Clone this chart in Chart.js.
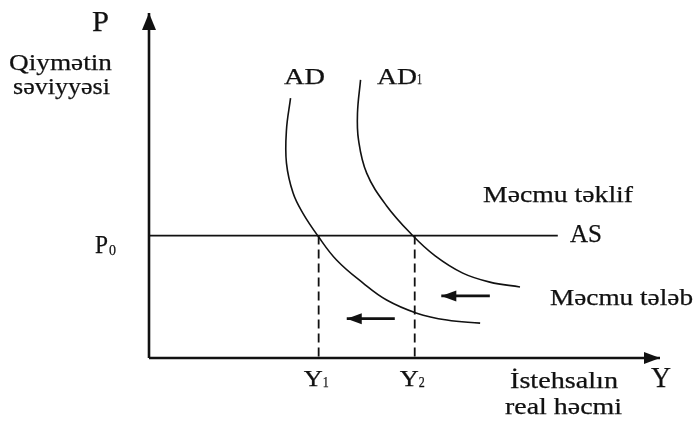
<!DOCTYPE html>
<html>
<head>
<meta charset="utf-8">
<script src="https://cdn.jsdelivr.net/npm/chart.js@4/dist/chart.umd.min.js"></script>
<style>
  html, body { margin: 0; padding: 0; background: #fff; }
  #wrap { width: 697px; height: 422px; position: relative; }
</style>
</head>
<body>
<div id="wrap"><canvas id="adchart"></canvas></div>
<script>
// curves (x = real output, y = price level)
const adCurve = [
  {x: 27.7, y: 75.3}, {x: 26.9, y: 66.1}, {x: 26.9, y: 56.5}, {x: 28.2, y: 47.8},
  {x: 30.1, y: 42.0}, {x: 33.0, y: 35.5}, {x: 36.7, y: 28.4}, {x: 41.9, y: 21.7},
  {x: 46.5, y: 16.8}, {x: 52.4, y: 13.0}, {x: 58.3, y: 11.0}, {x: 64.8, y: 10.1}
];
const ad1Curve = [
  {x: 41.4, y: 80.6}, {x: 40.8, y: 71.0}, {x: 41.0, y: 63.2}, {x: 42.6, y: 53.6},
  {x: 46.4, y: 44.3}, {x: 51.6, y: 35.5}, {x: 56.0, y: 29.6}, {x: 61.4, y: 24.6},
  {x: 66.7, y: 22.0}, {x: 72.6, y: 20.6}
];
const priceLevel = 35.5;           // P0
const asEnd = 80;                  // where the AS line stops
const outputLevels = [33.2, 52.0]; // Y1, Y2
const tickLabels = ['Y', 'Y'];
const tickSubs = ['1', '2'];
const shiftArrows = [
  [{x: 66.7, y: 18.0}, {x: 57.2, y: 18.0}],
  [{x: 48.1, y: 11.4}, {x: 38.7, y: 11.4}]
];

const asLine = [{x: 0, y: priceLevel}, {x: asEnd, y: priceLevel}];
const yAxisLine = [{x: 0, y: 0}, {x: 0, y: 100}];
const xAxisLine = [{x: 0, y: 0}, {x: 100, y: 0}];

const INK = '#111';
const FONT = '"Liberation Serif", "Times New Roman", serif';

function line(data, extra) {
  return Object.assign({
    data: data,
    showLine: true,
    borderColor: INK,
    backgroundColor: INK,
    borderWidth: 1.6,
    pointRadius: 0,
    tension: 0,
    clip: false
  }, extra || {});
}

const datasets = [
  line(yAxisLine, {borderWidth: 2.6, arrowHead: {len: 17, half: 7}}),
  line(xAxisLine, {borderWidth: 2.6, arrowHead: {len: 16, half: 6}}),
  line(asLine, {borderWidth: 1.8}),
  line(adCurve, {tension: 0.4}),
  line(ad1Curve, {tension: 0.4})
];
outputLevels.forEach(v => {
  datasets.push(line([{x: v, y: priceLevel}, {x: v, y: 0}], {borderWidth: 1.8, borderDash: [9, 5]}));
});
shiftArrows.forEach(a => {
  datasets.push(line(a, {borderWidth: 2.6, arrowHead: {len: 15, half: 5.5}}));
});

function stretchText(ctx, str, x, y, size, width) {
  ctx.font = size + 'px ' + FONT;
  const m = ctx.measureText(str).width;
  ctx.save();
  ctx.translate(x, y);
  ctx.scale(width ? width / m : 1, 1);
  ctx.fillText(str, 0, 0);
  ctx.strokeText(str, 0, 0);
  ctx.restore();
}

const arrowPlugin = {
  id: 'arrows',
  afterDatasetsDraw(chart) {
    const ctx = chart.ctx;
    chart.data.datasets.forEach((ds, i) => {
      if (!ds.arrowHead) return;
      const pts = chart.getDatasetMeta(i).data;
      const a = pts[pts.length - 2], b = pts[pts.length - 1];
      const ang = Math.atan2(b.y - a.y, b.x - a.x);
      const {len, half} = ds.arrowHead;
      ctx.save();
      ctx.translate(b.x, b.y);
      ctx.rotate(ang);
      ctx.beginPath();
      ctx.moveTo(0, 0);
      ctx.lineTo(-len, -half);
      ctx.lineTo(-len, half);
      ctx.closePath();
      ctx.fillStyle = INK;
      ctx.fill();
      ctx.restore();
    });
  }
};

const labelPlugin = {
  id: 'labels',
  afterDraw(chart, args, opts) {
    const ctx = chart.ctx;
    const xs = chart.scales.x, ys = chart.scales.y;
    ctx.save();
    ctx.fillStyle = INK;
    ctx.strokeStyle = INK;
    ctx.lineWidth = 0.25;
    ctx.textBaseline = 'alphabetic';
    ctx.textAlign = 'left';
    opts.items.forEach(t => stretchText(ctx, t.text, t.x, t.y, t.size, t.w));
    // P0 on the price axis
    const py = ys.getPixelForValue(priceLevel);
    stretchText(ctx, 'P', xs.left - 54, py + 17, 25, 13);
    stretchText(ctx, '0', xs.left - 40, py + 19, 15, 7);
    // Y1, Y2 under the output axis
    outputLevels.forEach((v, i) => {
      const px = xs.getPixelForValue(v);
      stretchText(ctx, tickLabels[i], px - 15, 386, 23, 19);
      stretchText(ctx, tickSubs[i], px + 4, 387, 14, 6);
    });
    ctx.restore();
  }
};

new Chart(document.getElementById('adchart'), {
  type: 'scatter',
  data: {datasets},
  options: {
    responsive: true,
    maintainAspectRatio: false,
    animation: false,
    events: [],
    layout: {padding: {left: 149, right: 37, top: 13, bottom: 64}},
    scales: {
      x: {type: 'linear', min: 0, max: 100, display: false},
      y: {type: 'linear', min: 0, max: 100, display: false}
    },
    plugins: {
      legend: {display: false},
      tooltip: {enabled: false},
      labels: {
        items: [
          {text: 'P', x: 92, y: 31, size: 30, w: 17},
          {text: 'Qiymətin', x: 9, y: 70, size: 24, w: 103},
          {text: 'səviyyəsi', x: 13, y: 94, size: 24, w: 97},
          {text: 'AD', x: 284, y: 84, size: 24, w: 41},
          {text: 'AD', x: 377, y: 84, size: 24, w: 40},
          {text: '1', x: 417, y: 84, size: 14, w: 5},
          {text: 'Məcmu təklif', x: 483, y: 202, size: 23, w: 150},
          {text: 'AS', x: 570, y: 242, size: 25, w: 32},
          {text: 'Məcmu tələb', x: 550, y: 305, size: 23, w: 143},
          {text: 'İstehsalın', x: 510, y: 388, size: 23, w: 108},
          {text: 'real həcmi', x: 505, y: 414, size: 23, w: 117},
          {text: 'Y', x: 651, y: 387, size: 29, w: 20}
        ]
      }
    }
  },
  plugins: [arrowPlugin, labelPlugin]
});
</script>
</body>
</html>
